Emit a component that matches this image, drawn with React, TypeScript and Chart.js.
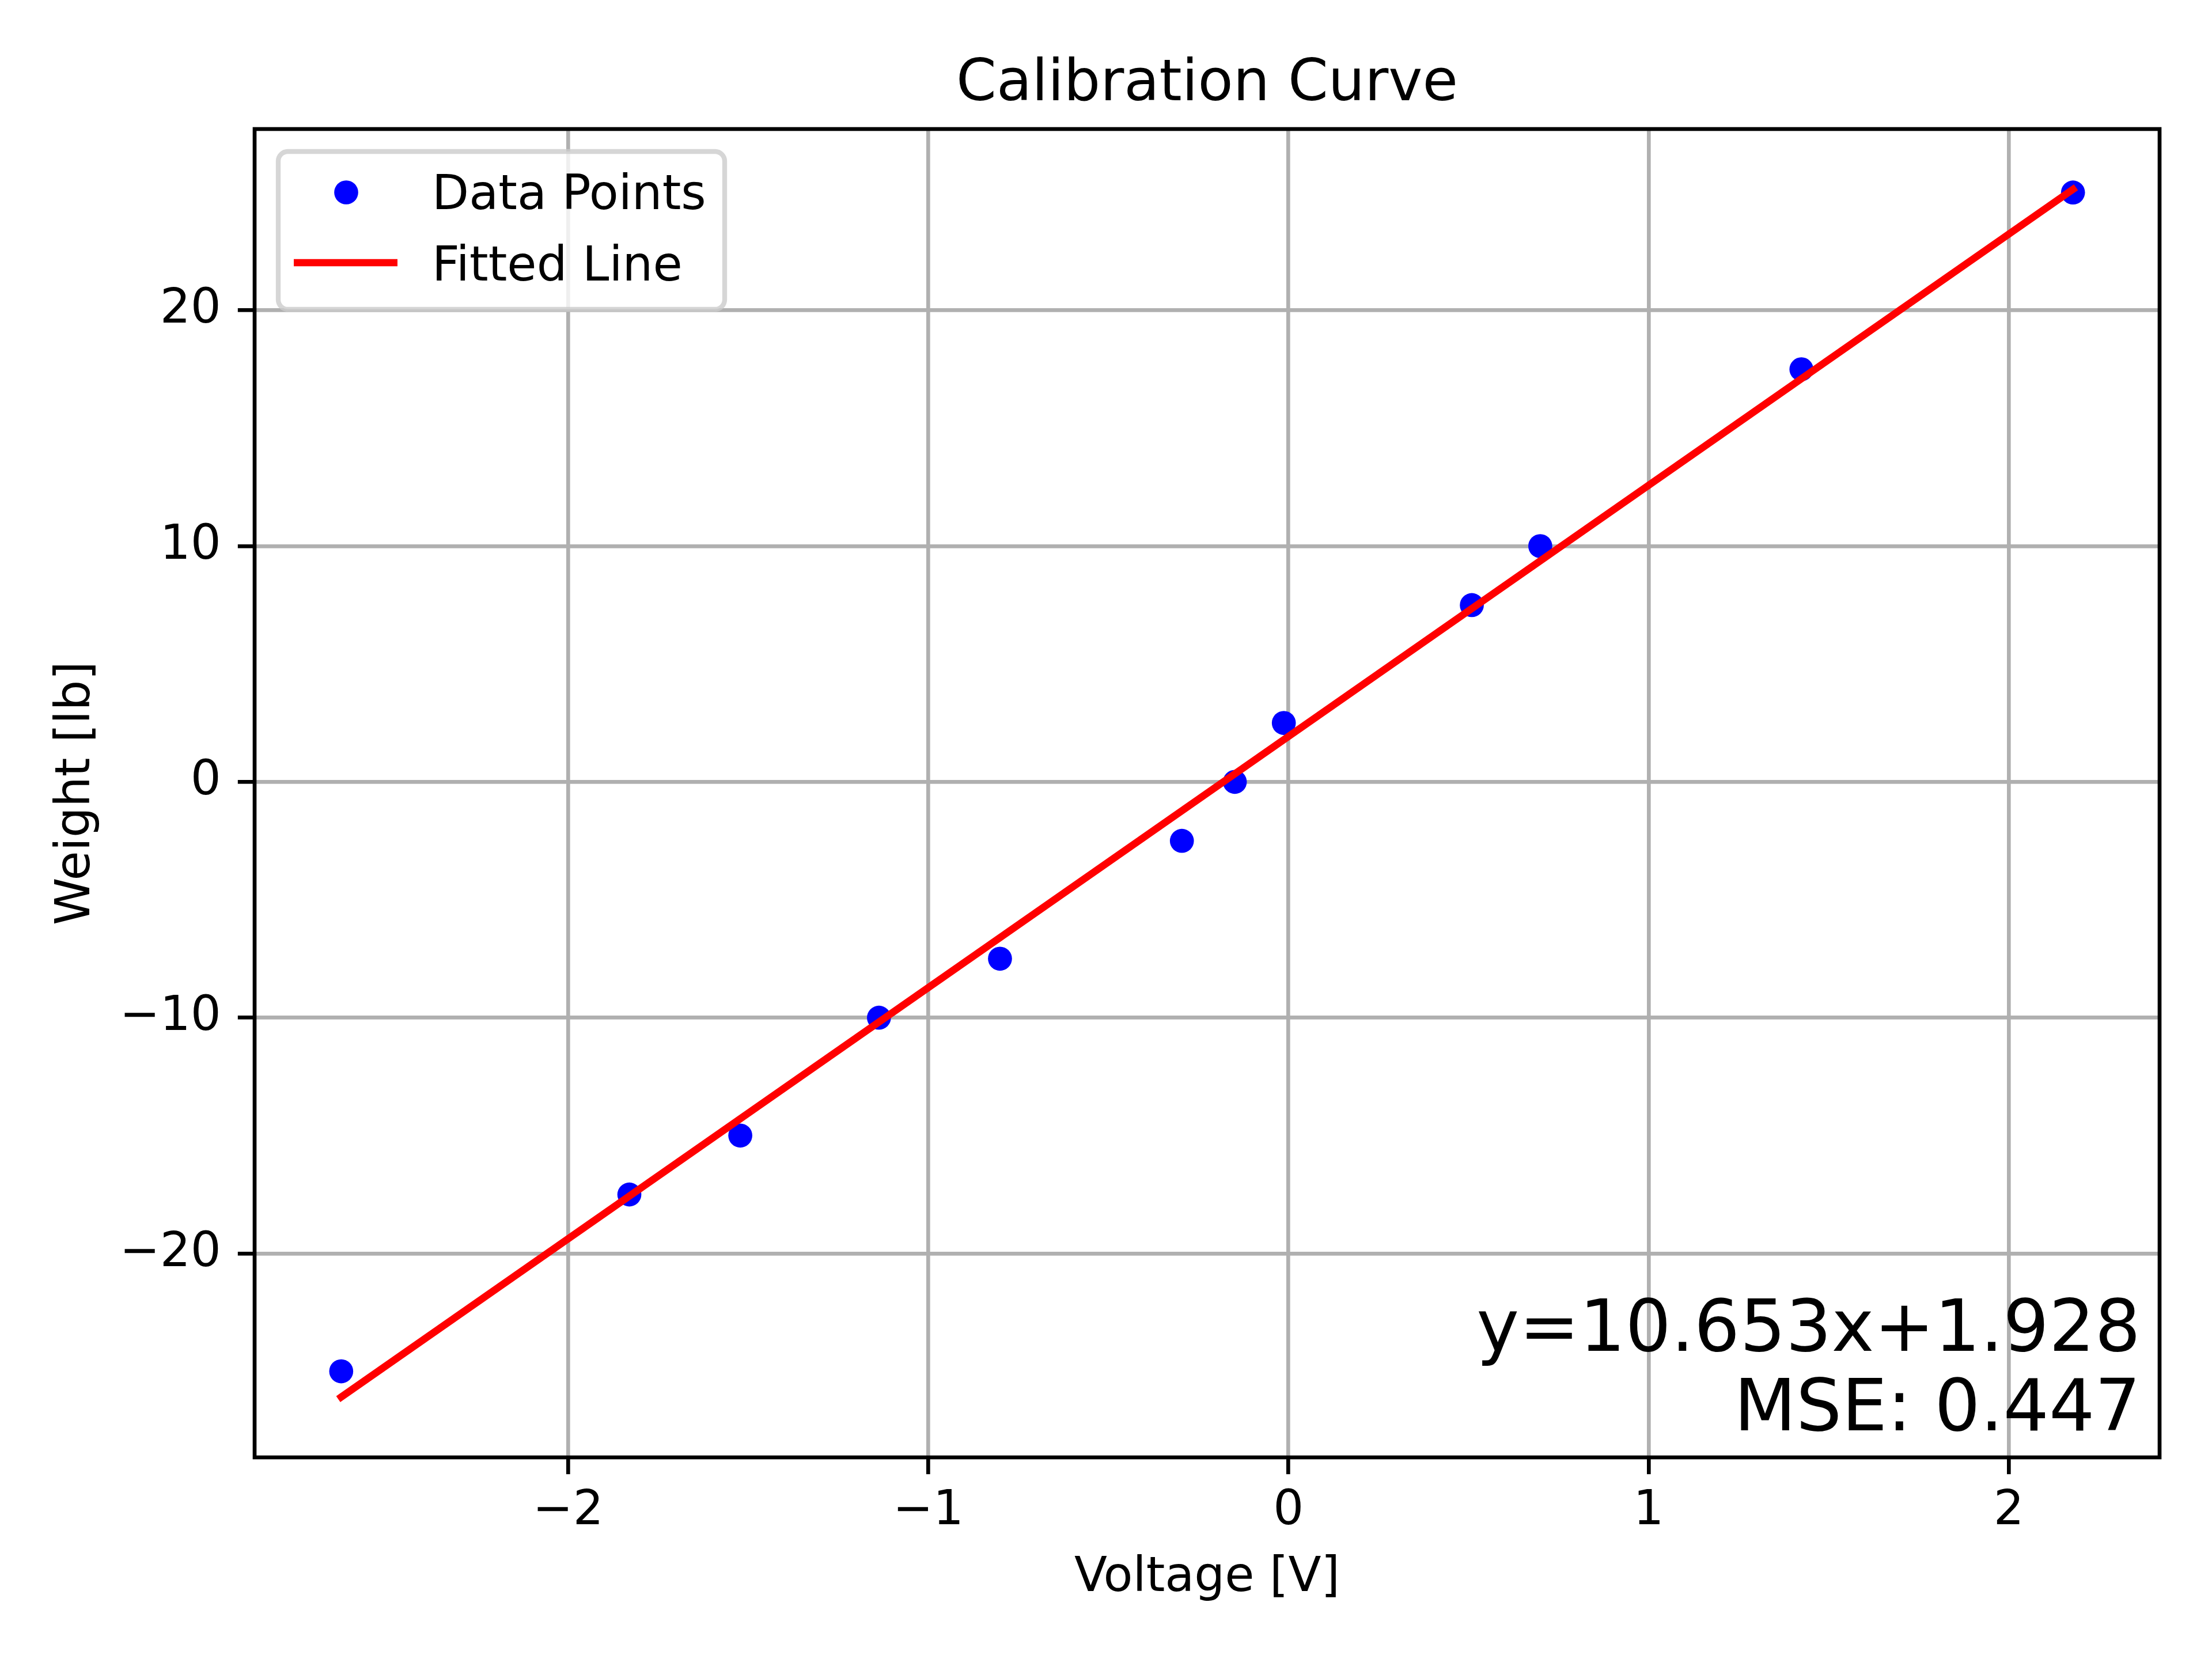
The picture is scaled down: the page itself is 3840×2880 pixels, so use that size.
import React, { useEffect, useRef } from 'react';
import { Chart, registerables } from 'chart.js';

Chart.register(...registerables);

// ---- data ----
const voltage = [-2.630, -1.830, -1.522, -1.137, -0.801, -0.296, -0.149, -0.013, 0.509, 0.699, 1.424, 2.178];
const weight = [-25, -17.5, -15, -10, -7.5, -2.5, 0, 2.5, 7.5, 10, 17.5, 25];
const fitSlope = 10.653;
const fitIntercept = 1.928;
const fitMse = 0.447;
const xTicks = [-2, -1, 0, 1, 2];
const yTicks = [-20, -10, 0, 10, 20];
const seriesNames = ['Data Points', 'Fitted Line'];
const chartTitle = 'Calibration Curve';
const xLabel = 'Voltage [V]';
const yLabel = 'Weight [lb]';

// ---- layout / style ----
const W = 3840;
const H = 2880;
const PT = 600 / 72;
const FAMILY = '"DejaVu Sans", "Liberation Sans", sans-serif';
const AREA = { left: 442, right: 3749, top: 224, bottom: 2530 };

const fmt = (v: number) => (v < 0 ? '\u2212' + String(Math.abs(v)) : String(v));
const font = (px: number) => `${px}px ${FAMILY}`;

const fitX = [Math.min(...voltage), Math.max(...voltage)];
const fitY = fitX.map((x) => fitSlope * x + fitIntercept);

const xLo = Math.min(...voltage, ...fitX);
const xHi = Math.max(...voltage, ...fitX);
const yLo = Math.min(...weight, ...fitY);
const yHi = Math.max(...weight, ...fitY);
const xMin = xLo - 0.05 * (xHi - xLo);
const xMax = xHi + 0.05 * (xHi - xLo);
const yMin = yLo - 0.05 * (yHi - yLo);
const yMax = yHi + 0.05 * (yHi - yLo);

const overlay = {
  id: 'overlay',
  afterDatasetsDraw(chart: any) {
    const { ctx, chartArea: a } = chart;
    ctx.save();
    ctx.strokeStyle = '#000';
    ctx.lineWidth = 0.8 * PT;
    ctx.lineJoin = 'miter';
    ctx.strokeRect(a.left, a.top, a.right - a.left, a.bottom - a.top);
    ctx.restore();
  },
  afterDraw(chart: any) {
    const { ctx, chartArea: a } = chart;
    const cx = (a.left + a.right) / 2;
    const cy = (a.top + a.bottom) / 2;
    ctx.save();
    ctx.fillStyle = '#000';
    ctx.textBaseline = 'alphabetic';

    // title
    ctx.font = font(12 * PT);
    ctx.textAlign = 'center';
    ctx.fillText(chartTitle, cx, a.top - 50);

    // x label
    ctx.font = font(10 * PT);
    ctx.fillText(xLabel, cx, 2762);

    // y label
    ctx.save();
    ctx.translate(155, cy);
    ctx.rotate(-Math.PI / 2);
    ctx.textAlign = 'center';
    ctx.fillText(yLabel, 0, 0);
    ctx.restore();

    // annotation
    ctx.font = font(15 * PT);
    ctx.textAlign = 'right';
    ctx.fillText(`y=${fitSlope.toFixed(3)}x+${fitIntercept.toFixed(3)}`, 3716, 2345);
    ctx.fillText(`MSE: ${fitMse.toFixed(3)}`, 3716, 2483);

    // legend
    const ds = chart.data.datasets;
    const pts = ds.find((d: any) => d.label === seriesNames[0]);
    const ln = ds.find((d: any) => d.label === seriesNames[1]);
    const bx = 483, by = 263, bw = 775, bh = 274;
    ctx.beginPath();
    (ctx as any).roundRect(bx, by, bw, bh, 0.2 * 10 * PT);
    ctx.fillStyle = 'rgba(255,255,255,0.8)';
    ctx.fill();
    ctx.strokeStyle = 'rgba(204,204,204,0.8)';
    ctx.lineWidth = 1 * PT;
    ctx.stroke();

    ctx.beginPath();
    ctx.arc(601, 334, pts.pointRadius, 0, Math.PI * 2);
    ctx.fillStyle = pts.pointBackgroundColor;
    ctx.fill();

    ctx.beginPath();
    ctx.moveTo(510, 456);
    ctx.lineTo(690, 456);
    ctx.strokeStyle = ln.borderColor;
    ctx.lineWidth = ln.borderWidth;
    ctx.lineCap = 'butt';
    ctx.stroke();

    ctx.fillStyle = '#000';
    ctx.font = font(10 * PT);
    ctx.textAlign = 'left';
    ctx.fillText(pts.label, 750, 363);
    ctx.fillText(ln.label, 750, 487);
    ctx.restore();
  },
};

export default function App() {
  const ref = useRef<HTMLCanvasElement | null>(null);

  useEffect(() => {
    document.body.style.margin = '0';
    const canvas = ref.current;
    if (!canvas) return;
    const gridCommon = {
      color: '#b0b0b0',
      lineWidth: 0.8 * PT,
      drawTicks: true,
      tickLength: 3.5 * PT,
      tickColor: '#000',
      tickWidth: 0.8 * PT,
    };
    const chart = new Chart(canvas, {
      type: 'scatter',
      data: {
        datasets: [
          {
            label: seriesNames[1],
            data: fitX.map((x, i) => ({ x, y: fitY[i] })),
            showLine: true,
            borderColor: '#ff0000',
            backgroundColor: '#ff0000',
            borderWidth: 1.5 * PT,
            borderCapStyle: 'square',
            pointRadius: 0,
            pointHoverRadius: 0,
            order: 0,
          } as any,
          {
            label: seriesNames[0],
            data: voltage.map((x, i) => ({ x, y: weight[i] })),
            showLine: false,
            pointRadius: (5 * PT) / 2,
            pointHoverRadius: (5 * PT) / 2,
            pointBackgroundColor: '#0000ff',
            pointBorderColor: '#0000ff',
            pointBorderWidth: 0,
            order: 1,
          } as any,
        ],
      },
      options: {
        responsive: false,
        animation: false,
        devicePixelRatio: 1,
        events: [],
        layout: {
          padding: { left: 0, top: AREA.top, right: W - AREA.right, bottom: 0 },
        },
        plugins: {
          legend: { display: false },
          title: { display: false },
          tooltip: { enabled: false },
        },
        scales: {
          x: {
            type: 'linear',
            min: xMin,
            max: xMax,
            afterBuildTicks: (s: any) => {
              s.ticks = xTicks.map((v) => ({ value: v }));
            },
            afterFit: (s: any) => {
              s.height = H - AREA.bottom;
            },
            grid: gridCommon,
            border: { display: false },
            ticks: {
              color: '#000',
              font: { family: FAMILY, size: 10 * PT, lineHeight: 1.2 },
              padding: 15,
              maxRotation: 0,
              autoSkip: false,
              callback: (v: any) => fmt(Number(v)),
            },
          },
          y: {
            type: 'linear',
            min: yMin,
            max: yMax,
            afterBuildTicks: (s: any) => {
              s.ticks = yTicks.map((v) => ({ value: v }));
            },
            afterFit: (s: any) => {
              s.width = AREA.left;
            },
            grid: gridCommon,
            border: { display: false },
            ticks: {
              color: '#000',
              font: { family: FAMILY, size: 10 * PT, lineHeight: 1.2 },
              padding: 3.5 * PT,
              autoSkip: false,
              callback: (v: any) => fmt(Number(v)),
            },
          },
        },
      } as any,
      plugins: [overlay],
    });
    return () => chart.destroy();
  }, []);

  return (
    <div style={{ width: W, height: H, background: '#fff' }}>
      <canvas ref={ref} width={W} height={H} style={{ width: W, height: H, display: 'block' }} />
    </div>
  );
}
